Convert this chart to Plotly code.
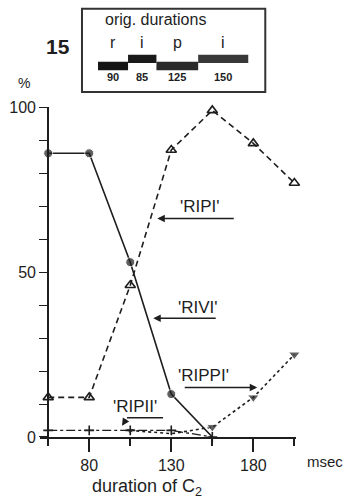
import numpy as np
import plotly.graph_objects as go

# duration of C2 (msec)
dur_c2 = [55, 80, 105, 130, 155, 180, 205]

# response percentages
rivi = [86, 86, 53, 13, 0]
ripi = [12, 12, 46, 87, 99, 89, 77]
rippi_x = [105, 130, 155, 180, 205]
rippi = [2, 1, 3, 12, 25]
ripii = [2, 2, 2, 2, 0]

# inset: original durations
orig_labels = ['r', 'i', 'p', 'i']
orig_durs = [90, 85, 125, 150]

INK = '#1e1e1e'
FONT = 'Liberation Sans'

fig = go.Figure()

# 'RIVI' solid with filled circles
fig.add_trace(go.Scatter(
    x=dur_c2[:5], y=rivi, mode='lines+markers', cliponaxis=False,
    line=dict(color=INK, width=1.6),
    marker=dict(symbol='circle', size=[9, 9, 9, 9, 0], color=INK)))

# 'RIPI' dashed with open triangles
fig.add_trace(go.Scatter(
    x=dur_c2, y=ripi, mode='lines+markers', cliponaxis=False,
    line=dict(color=INK, width=1.6, dash='6px,4px'),
    marker=dict(symbol='triangle-up-open', size=9, color=INK, line=dict(width=1.6))))

# 'RIPPI' dotted with filled down triangles
fig.add_trace(go.Scatter(
    x=rippi_x, y=rippi, mode='lines+markers', cliponaxis=False,
    line=dict(color=INK, width=1.6, dash='dot'),
    marker=dict(symbol='triangle-down', size=[8, 0, 10, 10, 10], color=INK)))

# 'RIPII' dash-dot with crosses
fig.add_trace(go.Scatter(
    x=dur_c2[:5], y=ripii, mode='lines+markers', cliponaxis=False,
    line=dict(color=INK, width=1.3, dash='dashdot'),
    marker=dict(symbol='cross-thin-open', size=7, color=INK, line=dict(width=1.6, color=INK))))

# inset bars
starts = np.concatenate([[0], np.cumsum(orig_durs)[:-1]])
lane = [0.313, 0.398, 0.313, 0.398]
fig.add_trace(go.Bar(
    orientation='h', x=orig_durs, base=starts, y=lane, width=0.1,
    marker=dict(color=['#151515', '#1a1a1a', '#2a2a2a', '#383838'], line=dict(width=0)),
    xaxis='x2', yaxis='y2'))

fig.update_layout(
    width=348, height=504,
    margin=dict(l=40, r=52, t=8, b=67),
    plot_bgcolor='white', paper_bgcolor='white',
    showlegend=False,
    font=dict(family=FONT, color=INK, size=15),
    xaxis=dict(range=[50, 206], domain=[0, 1], showgrid=False, zeroline=False, automargin=False,
               showline=True, linecolor=INK, linewidth=1.8,
               tickvals=[80, 130, 180], ticks='outside', ticklen=13, tickwidth=1.5, tickcolor=INK,
               tickfont=dict(size=16),
               minor=dict(tickvals=[55, 105, 155, 205], ticks='outside', ticklen=7,
                          tickwidth=1.5, tickcolor=INK)),
    yaxis=dict(range=[0, 100], domain=[0, 0.769], anchor='free', position=0.0313, automargin=False,
               showgrid=False, zeroline=False, showline=True, linecolor=INK, linewidth=1.6,
               tickvals=list(range(0, 101, 10)),
               ticktext=['0', '', '', '', '', '50', '', '', '', '', '100'],
               ticks='outside', ticklen=8, tickwidth=1.2, tickcolor=INK,
               tickfont=dict(size=16)),
    xaxis2=dict(domain=[0.164, 0.880], range=[-48, 501], anchor='y2', visible=False),
    yaxis2=dict(domain=[0.804, 0.998], range=[0, 1], anchor='x2', visible=False),
)

# inset frame
fig.add_shape(type='rect', xref='x2 domain', yref='y2 domain', x0=0, x1=1, y0=0, y1=1,
              line=dict(color='#333', width=2))

centers = starts + np.array(orig_durs) / 2
fig.add_annotation(x=171, y=0.867, xref='x2', yref='y2', text='orig. durations',
                   showarrow=False, font=dict(size=16))
for c, lab, d in zip(centers, orig_labels, orig_durs):
    fig.add_annotation(x=c, y=0.60, xref='x2', yref='y2', text=lab, showarrow=False,
                       font=dict(size=16))
    fig.add_annotation(x=c, y=0.18, xref='x2', yref='y2', text='<b>%d</b>' % d,
                       showarrow=False, font=dict(size=11))

# labels around the axes
mid = dict(xref='paper', yref='paper', xanchor='center', yanchor='middle', showarrow=False)
fig.add_annotation(x=0.07, y=0.911, text='<b>15</b>', font=dict(size=21), **mid)
fig.add_annotation(x=-0.063, y=0.826, text='%', font=dict(size=14), **mid)
fig.add_annotation(x=1.115, y=-0.058, text='msec', font=dict(size=15), **mid)
fig.add_annotation(x=0.419, y=-0.1166, text='duration of C<sub>2</sub>', font=dict(size=18), **mid)

# series labels with arrows
lbl = dict(showarrow=False, font=dict(size=17))
arrow = dict(showarrow=True, arrowhead=2, arrowsize=1, arrowwidth=1.5, arrowcolor=INK,
             axref='x', ayref='y', xref='x', yref='y')
fig.add_annotation(text='', x=121.5, y=66.2, ax=169, ay=66.2, **arrow)
fig.add_annotation(x=147.7, y=69.8, text="'RIPI'", **lbl)
fig.add_annotation(text='', x=119, y=36, ax=158, ay=36, **arrow)
fig.add_annotation(x=146, y=39.3, text="'RIVI'", **lbl)
fig.add_annotation(text='', x=182.4, y=15, ax=137.3, ay=15, **arrow)
fig.add_annotation(x=149.5, y=18.6, text="'RIPPI'", **lbl)
fig.add_shape(type='line', xref='x', yref='y', x0=125, x1=103, y0=5.8, y1=5.8,
              line=dict(color=INK, width=1.5))
fig.add_annotation(text='', x=100, y=3.4, ax=103, ay=5.8, **arrow)
fig.add_annotation(x=108, y=9.3, text="'RIPII'", **lbl)

# the page's default body margin would shift the figure by 8px
fig.write_html("out.html", config={'displayModeBar': False},
               post_script="document.body.style.margin='0px';")
